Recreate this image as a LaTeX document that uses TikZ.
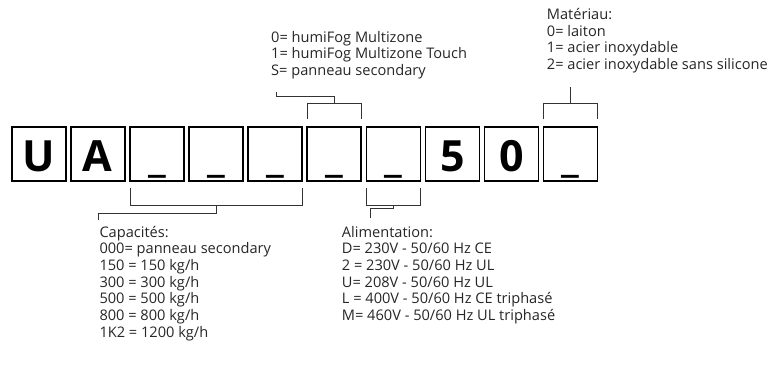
\documentclass[tikz,border=0pt]{standalone}
\usepackage{fontspec}
\setmainfont{Open Sans}
\usetikzlibrary{calc}
\tikzset{
  digit/.style={
    draw,
    line width=1.6pt,
    minimum size=54pt,
    inner sep=0pt,
    outer sep=0pt,
    text height=36pt,
    text depth=0pt,
    font=\fontsize{43}{43}\selectfont\bfseries
  },
  brace/.style={
    draw=black!80,
    line width=0.8pt
  },
  % anchored on the baseline of the last line
  legend/.style={
    anchor=base west,
    inner sep=0pt,
    align=left,
    text=black!85,
    font=\fontsize{14.6}{16.7}\selectfont
  }
}
\begin{document}
\begin{tikzpicture}[x=1pt,y=1pt]
  \useasboundingbox (0,0) rectangle (773,-368);
  % code boxes
  \foreach \t [count=\i] in {U,A,\_,\_,\_,\_,\_,5,0,\_}
    \node[digit] (b\i) at ({38.7+59.1*(\i-1)},-153.8) {\t};
  % legends
  \node[legend] (hf) at (271,-75.4) {0= humiFog Multizone\\1= humiFog Multizone Touch\\S= panneau secondary};
  \node[legend] (mat) at (546.7,-69.6) {Matériau:\\0= laiton\\1= acier inoxydable\\2= acier inoxydable sans silicone};
  \node[legend] (cap) at (99.3,-337.2) {Capacités:\\000= panneau secondary\\150 = 150 kg/h\\300 = 300 kg/h\\500 = 500 kg/h\\800 = 800 kg/h\\1K2 = 1200 kg/h};
  \node[legend] (ali) at (341.7,-320.5) {Alimentation:\\D= 230V - 50/60 Hz CE\\2 = 230V - 50/60 Hz UL\\U= 208V - 50/60 Hz UL\\L = 400V - 50/60 Hz CE triphasé\\M= 460V - 50/60 Hz UL triphasé};
  \coordinate (hfend) at (276,-91.5);
  \coordinate (matend) at (569.3,-87);
  \coordinate (capend) at (98.3,-220);
  \coordinate (aliend) at (370.7,-218.3);
  % brackets
  \draw[brace] ([yshift=7.5pt]b6.north west) -- ++(0,16) -| ([yshift=7.5pt]b6.north east);
  \draw[brace] ([yshift=23.5pt]b6.north) -- ++(0,6.6) -| (hfend);
  \draw[brace] ([yshift=7.5pt]b10.north west) -- ++(0,16) -| ([yshift=7.5pt]b10.north east);
  \draw[brace] ([yshift=23.5pt]b10.north) -- (b10.north |- matend);
  \draw[brace] ([yshift=-7.5pt]b3.south west) -- ++(0,-16.7) -| ([yshift=-7.5pt]b5.south east);
  \draw[brace] ([yshift=-24.2pt]b4.south) -- ++(0,-8.3) -| (capend);
  \draw[brace] ([yshift=-7.5pt]b7.south west) -- ++(0,-16.7) -| ([yshift=-7.5pt]b7.south east);
  \draw[brace] ([yshift=-24.2pt]b7.south) -- ++(0,-3.3) -| (aliend);
\end{tikzpicture}
\end{document}
